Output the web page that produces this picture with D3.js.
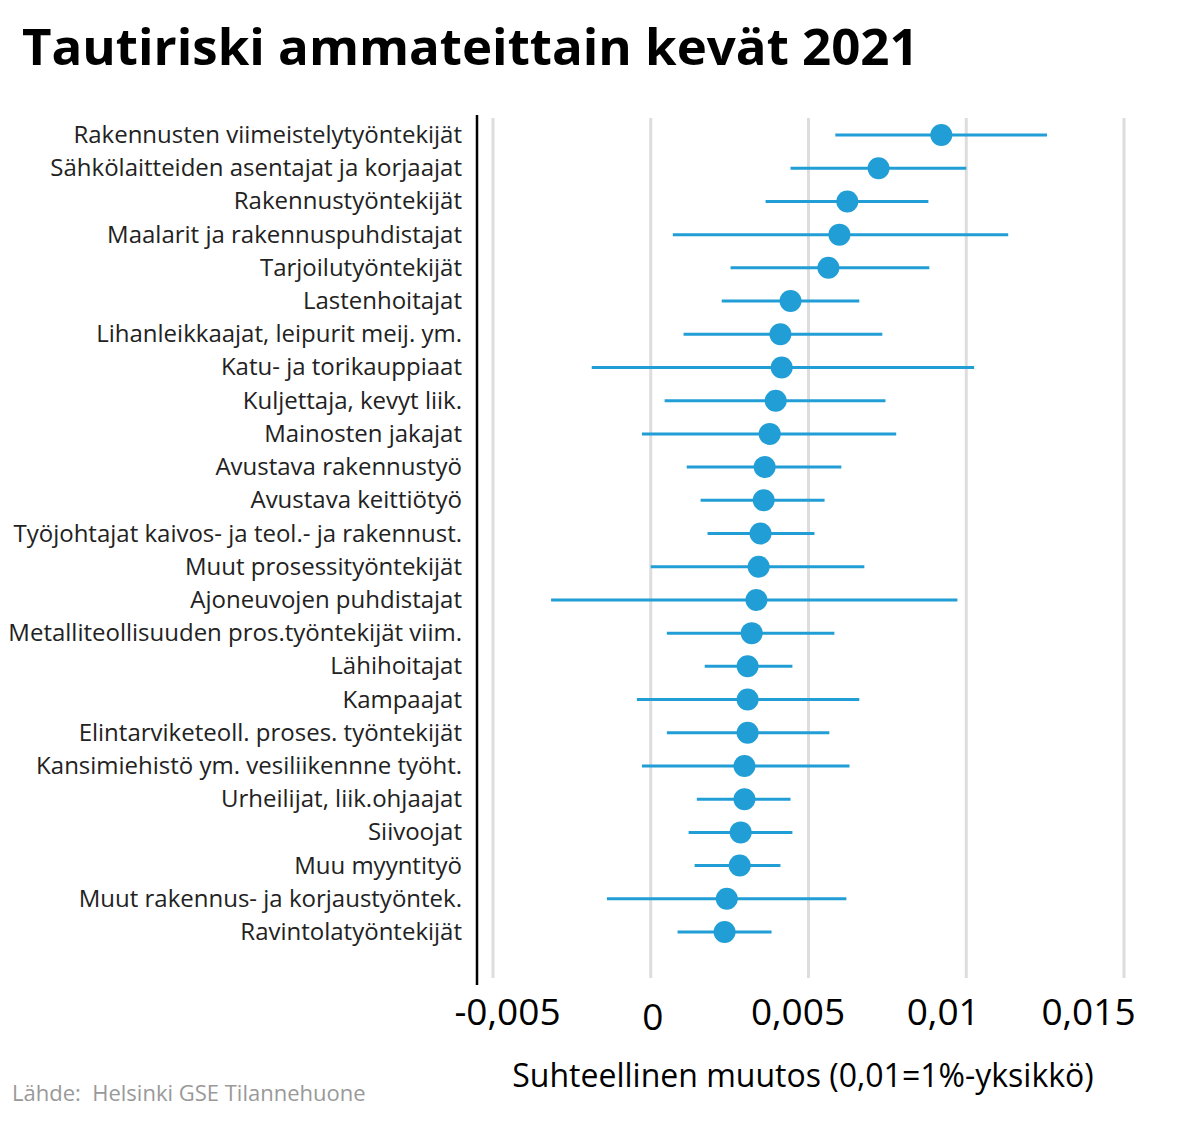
<!DOCTYPE html><html><head><meta charset="utf-8"><script src="https://cdn.jsdelivr.net/npm/d3@7"></script>
<style>body{margin:0;background:#fff}text{font-family:"Open Sans",sans-serif}</style></head><body><svg id="c" width="1198" height="1124"></svg>
<script>
const categories=["Rakennusten viimeistelytyöntekijät","Sähkölaitteiden asentajat ja korjaajat","Rakennustyöntekijät","Maalarit ja rakennuspuhdistajat","Tarjoilutyöntekijät","Lastenhoitajat","Lihanleikkaajat, leipurit meij. ym.","Katu- ja torikauppiaat","Kuljettaja, kevyt liik.","Mainosten jakajat","Avustava rakennustyö","Avustava keittiötyö","Työjohtajat kaivos- ja teol.- ja rakennust.","Muut prosessityöntekijät","Ajoneuvojen puhdistajat","Metalliteollisuuden pros.työntekijät viim.","Lähihoitajat","Kampaajat","Elintarviketeoll. proses. työntekijät","Kansimiehistö ym. vesiliikennne työht.","Urheilijat, liik.ohjaajat","Siivoojat","Muu myyntityö","Muut rakennus- ja korjaustyöntek.","Ravintolatyöntekijät"];
const estimate=[0.00921,0.00722,0.00623,0.00598,0.00563,0.00443,0.00411,0.00415,0.00396,0.00377,0.00361,0.00358,0.00348,0.00342,0.00335,0.0032,0.00307,0.00307,0.00307,0.00297,0.00297,0.00285,0.00282,0.00241,0.00234];
const lower=[0.00585,0.00443,0.00364,0.0007,0.00253,0.00225,0.00104,-0.00187,0.00044,-0.00028,0.00114,0.00158,0.0018,0,-0.00316,0.00051,0.00171,-0.00044,0.00051,-0.00028,0.00146,0.0012,0.00139,-0.00139,0.00085];
const upper=[0.01256,0.01,0.0088,0.01133,0.00883,0.00661,0.00734,0.01025,0.00744,0.00778,0.00604,0.00551,0.00519,0.00677,0.00972,0.00582,0.00449,0.00661,0.00566,0.0063,0.00443,0.00449,0.00411,0.0062,0.00383];
const ticks=[-0.005,0,0.005,0.01,0.015];
const svg=d3.select("#c"),col="#219ed6";
const x=d3.scaleLinear().domain([-0.005,0.015]).range([493,1124]);
const y=d3.scalePoint().domain(categories).range([135,932]);
const fmt=v=>v===0?"0":String(v).replace(".",",");
svg.append("text").attr("x",22).attr("y",65).attr("font-size",51).attr("font-weight","bold").text("Tautiriski ammateittain kevät 2021");
svg.selectAll(".g").data(ticks).join("line").attr("x1",d=>x(d)).attr("x2",d=>x(d)).attr("y1",118).attr("y2",978).attr("stroke","#ddd").attr("stroke-width",3);
svg.append("line").attr("x1",477).attr("x2",477).attr("y1",115).attr("y2",985).attr("stroke","#000").attr("stroke-width",2.5);
svg.selectAll(".t").data(ticks).join("text").attr("x",d=>x(d)-d*1000*2.5+2).attr("y",d=>d===0?1030:1025).attr("text-anchor","middle").attr("font-size",37).text(fmt);
svg.append("text").attr("x",803).attr("y",1087).attr("text-anchor","middle").attr("font-size",32).text("Suhteellinen muutos (0,01=1%-yksikkö)");
svg.append("text").attr("x",12).attr("y",1101).attr("font-size",22).attr("fill","#999").attr("xml:space","preserve").style("white-space","pre").text("Lähde:  Helsinki GSE Tilannehuone");
const rows=svg.selectAll(".r").data(categories).join("g");
rows.append("text").attr("x",462).attr("y",d=>y(d)+8).attr("text-anchor","end").attr("font-size",24).attr("fill","#222").text(d=>d);
rows.append("line").attr("x1",(d,i)=>x(lower[i])).attr("x2",(d,i)=>x(upper[i])).attr("y1",d=>y(d)).attr("y2",d=>y(d)).attr("stroke",col).attr("stroke-width",3);
rows.append("circle").attr("cx",(d,i)=>x(estimate[i])).attr("cy",d=>y(d)).attr("r",11).attr("fill",col);
</script></body></html>
